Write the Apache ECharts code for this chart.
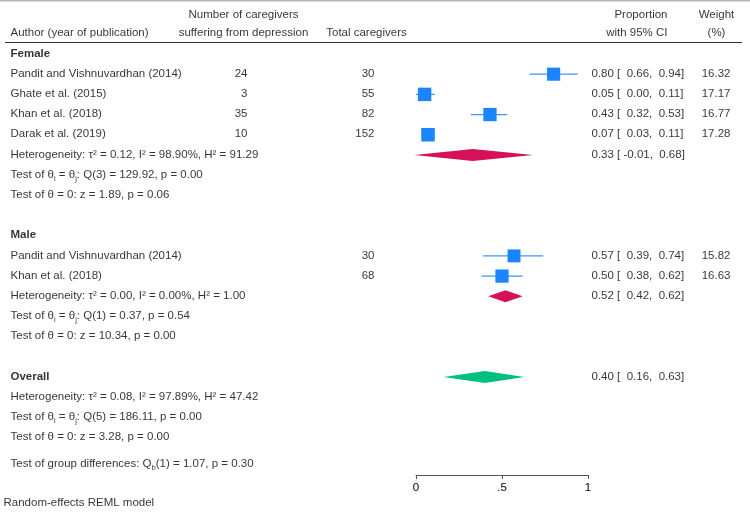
<!DOCTYPE html>
<html>
<head>
<meta charset="utf-8">
<script src="https://cdn.jsdelivr.net/npm/echarts@6/dist/echarts.min.js"></script>
<style>
html, body { margin: 0; padding: 0; background: #fff; }
#chart { width: 750px; height: 519px; }
</style>
</head>
<body>
<div id="chart"></div>
<script>
// studies, by subgroup
var femaleStudies = ['Pandit and Vishnuvardhan (2014)', 'Ghate et al. (2015)', 'Khan et al. (2018)', 'Darak et al. (2019)'];
var femaleCases = [24, 3, 35, 10];
var femaleTotal = [30, 55, 82, 152];
var femaleEst = [0.80, 0.05, 0.43, 0.07];
var femaleLo = [0.66, 0.00, 0.32, 0.03];
var femaleHi = [0.94, 0.11, 0.53, 0.11];
var femaleWeight = [16.32, 17.17, 16.77, 17.28];

var maleStudies = ['Pandit and Vishnuvardhan (2014)', 'Khan et al. (2018)'];
var maleCases = [null, null];
var maleTotal = [30, 68];
var maleEst = [0.57, 0.50];
var maleLo = [0.39, 0.38];
var maleHi = [0.74, 0.62];
var maleWeight = [15.82, 16.63];

// pooled estimates: female, male, overall
var pooledNames = ['Female', 'Male', 'Overall'];
var pooledEst = [0.33, 0.52, 0.40];
var pooledLo = [-0.01, 0.42, 0.16];
var pooledHi = [0.68, 0.62, 0.63];
var tau2 = [0.12, 0.00, 0.08];
var iSq = [98.90, 0.00, 97.89];
var hSq = [91.29, 1.00, 47.42];
var qDf = [3, 1, 5];
var qVal = [129.92, 0.37, 186.11];
var qP = [0.00, 0.54, 0.00];
var zVal = [1.89, 10.34, 3.28];
var zP = [0.06, 0.00, 0.00];
var qbDf = 1, qbVal = 1.07, qbP = 0.30;

var xTicks = [0, 0.5, 1];

var BLUE = '#1a85ff', RED = '#d41159', GREEN = '#00bf7f';
var ROW = 20.19;      // px per row
var FONT = 'Liberation Sans, Arial, Helvetica, sans-serif';
var FS = 11.5;

var myChart = echarts.init(document.getElementById('chart'));

function pad(v) { return (v < 0 ? '' : ' ') + v.toFixed(2); }
function ciText(e, l, h) { return e.toFixed(2) + ' [ ' + pad(l) + ', ' + pad(h) + ']'; }

var texts = [];
function txt(x, r, s, align, bold) {
	texts.push({
		value: [x, r],
		label: {
			formatter: s,
			align: align || 'left',
			fontWeight: bold ? 'bold' : 'normal'
		}
	});
}

// header
txt(11, -1, 'Author (year of publication)');
txt(244, -1.9, 'Number of caregivers', 'center');
txt(244, -1, 'suffering from depression', 'center');
txt(367, -1, 'Total caregivers', 'center');
txt(668, -1.9, 'Proportion', 'right');
txt(668, -1, 'with 95% CI', 'right');
txt(717, -1.9, 'Weight', 'center');
txt(717, -1, '(%)', 'center');

var studyRows = [], pooledRows = [];
function addGroup(g, start, names, cases, total, est, lo, hi, w) {
	txt(11, start, pooledNames[g], 'left', true);
	for (var i = 0; i < names.length; i++) {
		var r = start + 1 + i;
		txt(11, r, names[i]);
		if (cases[i] != null) txt(248, r, String(cases[i]), 'right');
		txt(375, r, String(total[i]), 'right');
		txt(592, r, ciText(est[i], lo[i], hi[i]));
		txt(731, r, w[i].toFixed(2), 'right');
		studyRows.push({ est: est[i], lo: lo[i], hi: hi[i], w: w[i], r: r });
	}
	var pr = start + 1 + names.length;
	pooledRows.push({ g: g, r: pr });
	txt(592, pr, ciText(pooledEst[g], pooledLo[g], pooledHi[g]));
	addStats(g, pr);
}
function addStats(g, r) {
	txt(11, r, 'Heterogeneity: τ² = ' + tau2[g].toFixed(2) + ', I² = ' + iSq[g].toFixed(2) + '%, H² = ' + hSq[g].toFixed(2));
	txt(11, r + 1, 'Test of θ{sub|i} = θ{sub|j}: Q(' + qDf[g] + ') = ' + qVal[g].toFixed(2) + ', p = ' + qP[g].toFixed(2));
	txt(11, r + 2, 'Test of θ = 0: z = ' + zVal[g].toFixed(2) + ', p = ' + zP[g].toFixed(2));
}

addGroup(0, 0, femaleStudies, femaleCases, femaleTotal, femaleEst, femaleLo, femaleHi, femaleWeight);
addGroup(1, 9, maleStudies, maleCases, maleTotal, maleEst, maleLo, maleHi, maleWeight);
// overall
txt(11, 16, 'Overall', 'left', true);
txt(592, 16, ciText(pooledEst[2], pooledLo[2], pooledHi[2]));
pooledRows.push({ g: 2, r: 16 });
addStats(2, 17);
txt(11, 20.31, 'Test of group differences: Q{sub|b}(' + qbDf + ') = ' + qbVal.toFixed(2) + ', p = ' + qbP.toFixed(2));
txt(4, 22.25, 'Random-effects REML model');

var plotMax = 20.85;
var option = {
	animation: false,
	textStyle: { fontFamily: FONT },
	grid: [
		{ left: 416, width: 172, top: 54, height: plotMax * ROW, outerBoundsMode: 'none' },
		{ left: 0, width: 750, top: 54 - 2.5 * ROW, height: 25 * ROW, outerBoundsMode: 'none' }
	],
	xAxis: [
		{
			gridIndex: 0, type: 'value', min: 0, max: 1, interval: 0.5, position: 'bottom',
			axisLine: { show: true, onZero: false, lineStyle: { color: '#555', width: 1 } },
			axisTick: { show: true, length: 4, lineStyle: { color: '#555' } },
			splitLine: { show: false },
			axisLabel: {
				color: '#000', fontSize: FS, fontFamily: FONT, margin: 7,
				formatter: function (v) { return String(v).replace(/^0\./, '.'); }
			}
		},
		{ gridIndex: 1, type: 'value', min: 0, max: 750, show: false }
	],
	yAxis: [
		{ gridIndex: 0, type: 'value', inverse: true, min: 0, max: plotMax, show: false },
		{ gridIndex: 1, type: 'value', inverse: true, min: -2.5, max: 22.5, show: false }
	],
	graphic: [
		{ type: 'rect', shape: { x: 0, y: 0, width: 750, height: 1.5 }, style: { fill: '#b4b4b4' } },
		{ type: 'line', shape: { x1: 5, y1: 42.5, x2: 742, y2: 42.5 }, style: { stroke: '#333', lineWidth: 1 } }
	],
	series: [
		{
			// confidence intervals
			type: 'custom', xAxisIndex: 0, yAxisIndex: 0, silent: true, clip: false,
			data: studyRows.map(function (d) { return [d.lo, d.hi, d.r]; }),
			renderItem: function (params, api) {
				var a = api.coord([api.value(0), api.value(2)]);
				var b = api.coord([api.value(1), api.value(2)]);
				return { type: 'line', shape: { x1: a[0], y1: a[1], x2: b[0], y2: b[1] }, style: { stroke: '#3d95ff', lineWidth: 1.2 } };
			}
		},
		{
			// study squares
			type: 'scatter', xAxisIndex: 0, yAxisIndex: 0, silent: true, symbol: 'rect',
			itemStyle: { color: BLUE, opacity: 1 },
			data: studyRows.map(function (d) { return [d.est, d.r, d.w]; }),
			symbolSize: function (v) { return 13.5 * Math.sqrt(v[2] / 17.28); }
		},
		{
			// pooled diamonds
			type: 'custom', xAxisIndex: 0, yAxisIndex: 0, silent: true, clip: false,
			data: pooledRows.map(function (d) { return [pooledLo[d.g], pooledEst[d.g], pooledHi[d.g], d.r, d.g]; }),
			renderItem: function (params, api) {
				var r = api.value(3), h = 6;
				var L = api.coord([api.value(0), r]);
				var M = api.coord([api.value(1), r]);
				var R = api.coord([api.value(2), r]);
				var col = api.value(4) === 2 ? GREEN : RED;
				return {
					type: 'polygon',
					shape: { points: [[L[0], L[1]], [M[0], M[1] - h], [R[0], R[1]], [M[0], M[1] + h]] },
					style: { fill: col }
				};
			}
		},
		{
			// table text
			type: 'scatter', xAxisIndex: 1, yAxisIndex: 1, silent: true, clip: false,
			symbolSize: 1, itemStyle: { color: 'rgba(0,0,0,0)' },
			label: {
				show: true, position: [0, 0], verticalAlign: 'middle',
				color: '#000', fontSize: FS, fontFamily: FONT, lineHeight: 16,
				rich: {
					sub: { fontSize: 7.5, lineHeight: 7, verticalAlign: 'bottom', color: '#000', fontFamily: FONT }
				}
			},
			data: texts
		}
	]
};
myChart.setOption(option);
</script>
</body>
</html>
